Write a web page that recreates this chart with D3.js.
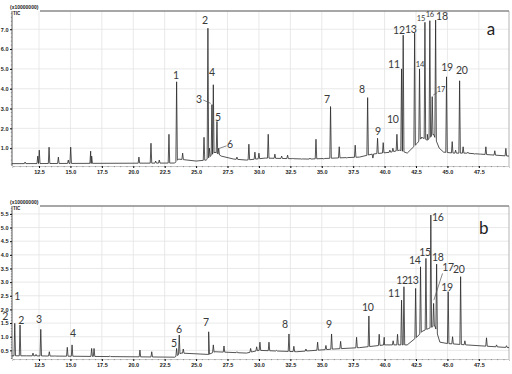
<!DOCTYPE html>
<html>
<head>
<meta charset="utf-8">
<script src="https://cdn.jsdelivr.net/npm/d3@7"></script>
<style>
  body { margin: 0; background: #fff; }
  svg { display: block; }
</style>
</head>
<body>
<div id="chart"></div>
<script>
//DATA
const timeTicks = [12.5, 15.0, 17.5, 20.0, 22.5, 25.0, 27.5, 30.0, 32.5, 35.0, 37.5, 40.0, 42.5, 45.0, 47.5];
const intensityTicksA = [1, 2, 3, 4, 5, 6, 7];
const intensityTicksB = [0.5, 1.0, 1.5, 2.0, 2.5, 3.0, 3.5, 4.0, 4.5, 5.0, 5.5];

// panel a: peaks (retention time, height x1e7)
const peakTimeA = [11.39, 12.4, 12.52, 13.30, 14.04, 14.83, 15.02, 16.61, 16.69, 20.45, 21.41, 21.78, 22.07, 22.84,
  23.45, 23.93, 25.63, 25.94, 26.06, 26.26, 26.37, 26.66, 26.8, 28.25, 29.2, 29.68, 30.0, 30.74, 31.27, 31.81,
  32.28, 32.71, 33.4, 34.06, 34.54, 35.17, 35.7, 36.39, 37.0, 37.66, 38.65, 39.07, 39.44, 39.89, 40.42, 40.66,
  40.98, 41.35, 41.48, 42.39, 42.78, 42.95, 43.21, 43.4, 43.6, 43.79, 44.06, 44.93, 45.38, 45.65, 45.97, 46.25,
  46.63, 47.18, 47.58, 48.06, 48.77, 49.65];
const peakHeightA = [0.3, 0.6, 0.9, 1.05, 0.55, 0.4, 1.05, 0.85, 0.6, 0.55, 1.25, 0.35, 0.4, 1.7,
  4.35, 0.75, 1.55, 7.05, 1.0, 3.2, 4.2, 2.35, 1.0, 0.55, 1.2, 0.8, 0.75, 1.7, 0.7, 0.6,
  0.65, 0.5, 0.45, 0.5, 1.45, 0.45, 3.1, 1.07, 0.5, 1.15, 3.55, 0.5, 1.5, 1.28, 0.9, 1.0,
  1.7, 5.0, 6.7, 6.8, 5.0, 1.5, 7.35, 1.7, 7.43, 3.6, 7.46, 4.6, 1.33, 0.9, 4.4, 1.07,
  0.8, 0.7, 0.7, 1.07, 0.87, 0.99];
const baseTimeA = [10.35, 23.3, 23.6, 25.0, 25.8, 26.5, 27.0, 28.0, 29.0, 30.5, 34.0, 38.0, 39.0, 40.5, 41.2,
  41.8, 42.6, 42.95, 43.4, 43.9, 44.35, 44.7, 45.5, 46.5, 49.9];
const baseLevelA = [0.22, 0.25, 0.45, 0.35, 0.4, 0.8, 0.6, 0.45, 0.4, 0.5, 0.45, 0.55, 0.7, 0.8, 0.9,
  0.75, 1.25, 1.55, 1.4, 1.7, 1.0, 0.8, 0.75, 0.75, 0.6];
const labelTextA = ["1", "2", "3", "4", "5", "6", "7", "8", "9", "10", "11", "12", "13", "14", "15", "16", "17", "18", "19", "20"];
const labelTimeA = [23.40, 25.70, 25.23, 26.26, 26.74, 27.69, 35.41, 38.19, 39.47, 40.66, 40.74, 41.14, 42.09, 42.81,
  42.89, 43.60, 44.48, 44.56, 44.96, 46.15];
const labelLevelA = [4.69, 7.46, 3.48, 4.84, 2.57, 1.21, 3.48, 3.98, 1.87, 2.47, 5.24, 6.96, 7.01, 5.24,
  7.56, 7.72, 3.98, 7.67, 5.09, 4.94];
const leadersA = [[25.57, 3.43, 26.16, 3.26], [26.84, 0.99, 27.43, 1.12], [43.87, 3.68, 44.19, 3.80]];

// panel b
const peakTimeB = [10.57, 10.99, 12.02, 12.26, 12.64, 13.32, 13.77, 14.75, 15.13, 16.69, 16.88, 18.15, 20.53, 21.47,
  23.45, 23.66, 23.98, 26.0, 26.37, 27.22, 28.25, 29.34, 29.82, 30.08, 30.8, 31.41, 32.39, 32.78, 33.74, 34.67,
  35.33, 35.78, 36.5, 37.77, 38.75, 39.57, 39.97, 40.68, 41.03, 41.35, 41.54, 42.47, 42.86, 43.29, 43.68, 43.9,
  44.14, 45.06, 45.41, 46.05, 46.39, 48.11, 48.91, 49.7];
const peakHeightB = [1.49, 1.43, 0.4, 0.35, 1.27, 0.45, 0.3, 0.61, 0.7, 0.57, 0.57, 0.3, 0.51, 0.45,
  0.57, 1.06, 0.55, 1.18, 0.7, 0.66, 0.45, 0.57, 0.63, 0.8, 0.8, 0.5, 1.1, 0.65, 0.55, 0.8,
  0.68, 1.1, 0.83, 0.98, 1.76, 1.09, 0.98, 0.85, 1.09, 2.34, 2.83, 2.77, 3.56, 3.87, 5.46, 2.22,
  3.66, 2.65, 1.0, 3.2, 0.85, 0.96, 0.7, 0.67];
const baseTimeB = [10.35, 11.5, 23.3, 23.8, 26.0, 26.5, 29.0, 30.0, 33.0, 36.0, 38.0, 40.0, 41.8, 42.6, 43.0,
  43.5, 44.0, 44.4, 45.0, 46.5, 49.9];
const baseLevelB = [0.3, 0.3, 0.25, 0.4, 0.35, 0.45, 0.4, 0.5, 0.45, 0.55, 0.6, 0.7, 0.7, 1.0, 1.2,
  1.3, 1.4, 0.8, 0.75, 0.7, 0.6];
const labelTextB = ["2", "1", "2", "3", "4", "5", "6", "7", "8", "9", "10", "11", "12", "13", "14", "15", "16", "17", "18", "19", "20"];
const labelTimeB = [9.80, 10.75, 11.07, 12.5, 15.2, 23.24, 23.64, 25.78, 32.07, 35.57, 38.67, 40.74, 41.38, 42.25,
  42.41, 43.21, 44.24, 45.04, 44.24, 44.96, 45.91];
const labelLevelB = [1.76, 2.49, 1.61, 1.65, 1.14, 0.77, 1.28, 1.54, 1.47, 1.47, 2.09, 2.60, 3.08, 3.08,
  3.81, 4.10, 5.38, 3.55, 3.92, 2.82, 3.48];
const leadersB = [[44.61, 3.32, 43.92, 2.34]];

//STYLE
const W = 512, H = 374;
const LINE = "#2a2a2a";
const GRID = "#e3e3e3";
const LABEL = "#3a3a3a";
const LABEL_FONT = "Lato, 'Open Sans', sans-serif";
const TICK_FONT = "'Liberation Sans', Arial, sans-serif";
const PEAK_HALF_WIDTH = 0.06;

const x = d3.scaleLinear().domain([10.35, 49.9]).range([12, 509]);

const svg = d3.select("#chart").append("svg")
  .attr("width", W)
  .attr("height", H);

function drawPanel(o) {
  const y = d3.scaleLinear().domain([0, o.yMax]).range([o.zero, o.top]);
  const g = svg.append("g");

  //GRID
  g.append("g").selectAll("line")
    .data(timeTicks)
    .join("line")
    .attr("x1", d => x(d)).attr("x2", d => x(d))
    .attr("y1", o.top).attr("y2", o.bottom)
    .attr("stroke", GRID).attr("stroke-width", 0.8);
  g.append("g").selectAll("line")
    .data(o.ticks)
    .join("line")
    .attr("x1", x.range()[0]).attr("x2", x.range()[1])
    .attr("y1", d => y(d)).attr("y2", d => y(d))
    .attr("stroke", GRID).attr("stroke-width", 0.8);

  //FRAME
  g.append("line")
    .attr("x1", x.range()[1]).attr("x2", x.range()[1])
    .attr("y1", o.top).attr("y2", o.bottom)
    .attr("stroke", "#b5b5b5");
  g.append("line")
    .attr("x1", 40).attr("x2", x.range()[1])
    .attr("y1", o.top).attr("y2", o.top)
    .attr("stroke", "#8a8a8a").attr("stroke-width", 1.6);
  g.append("line")
    .attr("x1", x.range()[0]).attr("x2", x.range()[0])
    .attr("y1", o.top).attr("y2", o.bottom)
    .attr("stroke", "#333").attr("stroke-width", 0.8);

  //AXES
  const yAxis = d3.axisLeft(y)
    .tickValues(o.ticks)
    .tickFormat(d3.format(".1f"))
    .tickSize(2)
    .tickPadding(1.5);
  g.append("g")
    .attr("transform", `translate(${x.range()[0]},0)`)
    .call(yAxis)
    .call(a => a.select(".domain").remove())
    .call(a => a.selectAll("text")
      .attr("font-family", TICK_FONT).attr("font-size", 5.5)
      .attr("font-weight", "bold").attr("fill", "#222"));
  g.append("g").selectAll("line")
    .data(d3.range(o.minorStep, o.yMax, o.minorStep).filter(v => y(v) < o.bottom))
    .join("line")
    .attr("x1", x.range()[0] - 1.2).attr("x2", x.range()[0])
    .attr("y1", d => y(d)).attr("y2", d => y(d))
    .attr("stroke", "#555").attr("stroke-width", 0.5);

  const xAxis = d3.axisBottom(x)
    .tickValues(timeTicks)
    .tickFormat(d3.format(".1f"))
    .tickSize(2)
    .tickPadding(2);
  g.append("g")
    .attr("transform", `translate(0,${o.bottom})`)
    .call(xAxis)
    .call(a => a.select(".domain").attr("stroke", "#c8c8c8"))
    .call(a => a.selectAll("text")
      .attr("font-family", TICK_FONT).attr("font-size", 5.5)
      .attr("font-weight", "bold").attr("fill", "#222"));
  g.append("g").selectAll("line")
    .data(d3.range(10.5, 49.9, 0.5))
    .join("line")
    .attr("x1", d => x(d)).attr("x2", d => x(d))
    .attr("y1", o.bottom).attr("y2", o.bottom + 1.2)
    .attr("stroke", "#555").attr("stroke-width", 0.5);

  // header
  g.append("text")
    .attr("x", 10).attr("y", o.top - 2)
    .attr("font-family", TICK_FONT).attr("font-size", 5)
    .attr("font-weight", "bold").attr("fill", "#222")
    .text("(x10000000)");
  g.append("text")
    .attr("x", 13).attr("y", o.top + 4)
    .attr("font-family", TICK_FONT).attr("font-size", 4.5)
    .attr("font-weight", "bold").attr("fill", "#222")
    .text("TIC");

  //TRACE
  const base = d3.scaleLinear().domain(o.baseTime).range(o.baseLevel).clamp(true);
  const pts = o.baseTime.map((t, i) => [t, o.baseLevel[i]]);
  o.peakTime.forEach((t, i) => {
    pts.push([t - PEAK_HALF_WIDTH, base(t - PEAK_HALF_WIDTH)]);
    pts.push([t, o.peakHeight[i]]);
    pts.push([t + PEAK_HALF_WIDTH, base(t + PEAK_HALF_WIDTH)]);
  });
  pts.sort((a, b) => a[0] - b[0]);
  g.append("path")
    .datum(pts)
    .attr("fill", "none")
    .attr("stroke", LINE)
    .attr("stroke-width", 0.8)
    .attr("stroke-linejoin", "round")
    .attr("d", d3.line().x(d => x(d[0])).y(d => y(d[1])));

  //LABELS
  g.append("g").selectAll("line")
    .data(o.leaders)
    .join("line")
    .attr("x1", d => x(d[0])).attr("y1", d => y(d[1]))
    .attr("x2", d => x(d[2])).attr("y2", d => y(d[3]))
    .attr("stroke", "#555").attr("stroke-width", 0.7);
  g.append("g").selectAll("text")
    .data(o.labelText)
    .join("text")
    .attr("x", (d, i) => x(o.labelTime[i]))
    .attr("y", (d, i) => y(o.labelLevel[i]))
    .attr("text-anchor", "middle")
    .attr("dominant-baseline", "central")
    .attr("font-family", LABEL_FONT)
    .attr("font-size", d => o.small.includes(d) ? 7.5 : 10.5)
    .attr("letter-spacing", -0.3)
    .attr("fill", LABEL)
    .text(d => d);
  g.append("text")
    .attr("x", x(o.tagTime)).attr("y", y(o.tagLevel))
    .attr("text-anchor", "middle")
    .attr("dominant-baseline", "central")
    .attr("font-family", LABEL_FONT)
    .attr("font-size", 17)
    .attr("fill", "#222")
    .text(o.tag);
}

drawPanel({
  top: 11, bottom: 166, zero: 168, yMax: 7.92, ticks: intensityTicksA, minorStep: 0.2,
  peakTime: peakTimeA, peakHeight: peakHeightA, baseTime: baseTimeA, baseLevel: baseLevelA,
  labelText: labelTextA, labelTime: labelTimeA, labelLevel: labelLevelA, leaders: leadersA,
  small: ["14", "15", "16", "17"], tag: "a", tagTime: 48.46, tagLevel: 7.06
});

drawPanel({
  top: 206, bottom: 359, zero: 364, yMax: 5.79, ticks: intensityTicksB, minorStep: 0.1,
  peakTime: peakTimeB, peakHeight: peakHeightB, baseTime: baseTimeB, baseLevel: baseLevelB,
  labelText: labelTextB, labelTime: labelTimeB, labelLevel: labelLevelB, leaders: leadersB,
  small: [], tag: "b", tagTime: 47.90, tagLevel: 5.02
});
</script>
</body>
</html>
